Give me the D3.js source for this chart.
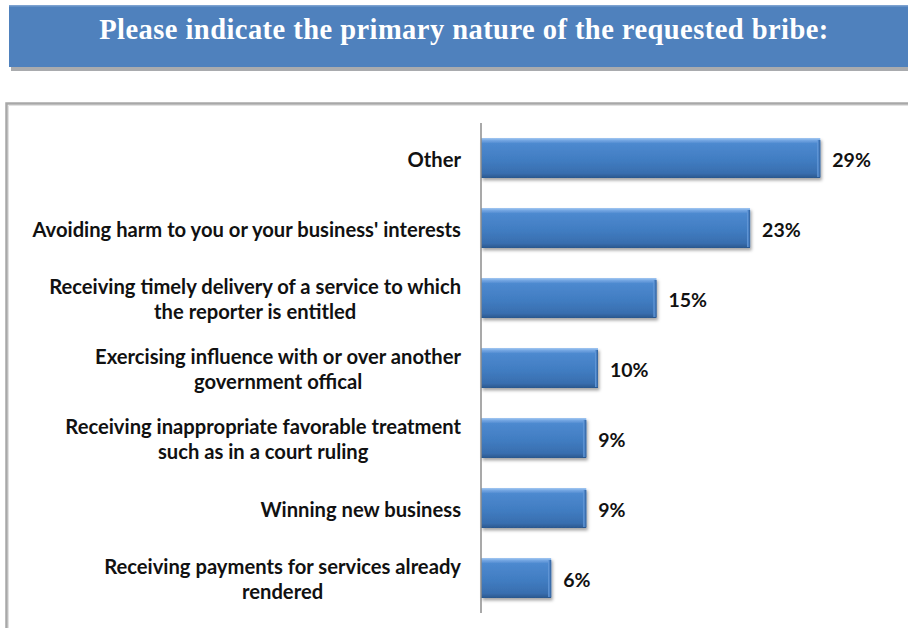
<!DOCTYPE html>
<html>
<head>
<meta charset="utf-8">
<script src="https://cdn.jsdelivr.net/npm/d3@7"></script>
<style>
  html, body { margin: 0; padding: 0; background: #fff; }
  svg { display: block; }
</style>
</head>
<body>
<div id="chart"></div>
<script>
// Survey responses: primary nature of the requested bribe (% of reports)
const titleText = "Please indicate the primary nature of the requested bribe:";
const categories = [
  ["Other"],
  ["Avoiding harm to you or your business' interests"],
  ["Receiving timely delivery of a service to which", "the reporter is entitled"],
  ["Exercising influence with or over another", "government offical"],
  ["Receiving inappropriate favorable treatment", "such as in a court ruling"],
  ["Winning new business"],
  ["Receiving payments for services already", "rendered"]
];
const values = [29, 23, 15, 10, 9, 9, 6];

const W = 908, H = 628;
const svg = d3.select("#chart").append("svg")
  .attr("width", W).attr("height", H);

const defs = svg.append("defs");

// vertical shading of each bar (lit top edge, darker base)
const g1 = defs.append("linearGradient").attr("id", "barFill")
  .attr("x1", 0).attr("y1", 0).attr("x2", 0).attr("y2", 1);
[["0%", "#a3c8f2"], ["6%", "#74a6e2"], ["14%", "#4d89cf"], ["55%", "#417dc2"],
 ["88%", "#386eaf"], ["100%", "#2b578d"]]
  .forEach(([o, c]) => g1.append("stop").attr("offset", o).attr("stop-color", c));

// bevel at the bar end
const g2 = defs.append("linearGradient").attr("id", "bevel")
  .attr("x1", 0).attr("y1", 0).attr("x2", 1).attr("y2", 0);
[["0%", "#6c9fdc"], ["45%", "#4a82c6"], ["100%", "#2f5d96"]]
  .forEach(([o, c]) => g2.append("stop").attr("offset", o).attr("stop-color", c));

const shadow = defs.append("filter").attr("id", "barShadow")
  .attr("x", "-5%").attr("y", "-20%").attr("width", "115%").attr("height", "160%");
shadow.append("feDropShadow").attr("dx", 1.5).attr("dy", 2.5)
  .attr("stdDeviation", 1.6).attr("flood-color", "#000").attr("flood-opacity", 0.35);

// title banner
svg.append("rect").attr("x", 11).attr("y", 67).attr("width", W).attr("height", 4)
  .attr("fill", "#a9abae");
svg.append("rect").attr("x", 9).attr("y", 5).attr("width", W).attr("height", 62)
  .attr("fill", "#4f81bd");
svg.append("rect").attr("x", 9).attr("y", 5).attr("width", W).attr("height", 1.5)
  .attr("fill", "#7da2d0");
svg.append("text")
  .attr("x", 464).attr("y", 39)
  .attr("text-anchor", "middle")
  .attr("font-family", "'Liberation Serif', 'DejaVu Serif', serif")
  .attr("font-weight", "bold")
  .attr("font-size", 28.5)
  .attr("letter-spacing", 0.45)
  .attr("fill", "#fff")
  .text(titleText);

// chart frame
svg.append("path")
  .attr("d", `M6.5,${H + 5} V103.5 H${W + 5}`)
  .attr("fill", "none").attr("stroke", "#a8a8a8").attr("stroke-width", 2.5);
svg.append("path")
  .attr("d", `M8.5,${H + 5} V105.5 H${W + 5}`)
  .attr("fill", "none").attr("stroke", "#e2e2e2").attr("stroke-width", 1);

// scales
const x = d3.scaleLinear().domain([0, 30]).range([481, 832]);
const y = d3.scaleBand()
  .domain(d3.range(values.length))
  .range([123, 613])
  .paddingInner(30 / 70)
  .paddingOuter(15 / 70);

const rows = svg.append("g").selectAll("g")
  .data(values.map((v, i) => ({ v, i, lines: categories[i] })))
  .join("g");

// bars
rows.append("rect")
  .attr("x", x(0))
  .attr("y", d => y(d.i))
  .attr("width", d => x(d.v) - x(0))
  .attr("height", y.bandwidth())
  .attr("fill", "url(#barFill)")
  .attr("filter", "url(#barShadow)");
rows.append("rect")
  .attr("x", d => x(d.v) - 3)
  .attr("y", d => y(d.i) + 2)
  .attr("width", 3)
  .attr("height", y.bandwidth() - 3)
  .attr("fill", "url(#bevel)");

// value axis line
svg.append("line")
  .attr("x1", x(0)).attr("x2", x(0))
  .attr("y1", y.range()[0]).attr("y2", y.range()[1])
  .attr("stroke", "#8c8c8c").attr("stroke-width", 1.5);

const labelFont = "Lato, 'Open Sans', sans-serif";
const labelSize = 20.2;

// value labels
rows.append("text")
  .attr("x", d => x(d.v) + 12)
  .attr("y", d => y(d.i) + y.bandwidth() / 2 + 2)
  .attr("dy", "0.35em")
  .attr("font-family", labelFont)
  .attr("font-weight", "bold")
  .attr("font-size", labelSize - 0.7)
  .attr("fill", "#111")
  .text(d => d.v + "%");

// category labels: lines centred on each other, block right-aligned to the axis gap
const labelRight = 461, lineH = 24.5;
rows.each(function (d) {
  const g = d3.select(this);
  const t = g.append("text")
    .attr("font-family", labelFont)
    .attr("font-weight", "bold")
    .attr("font-size", labelSize)
    .attr("fill", "#111")
    .attr("text-anchor", "middle");
  const spans = d.lines.map(s => t.append("tspan").text(s));
  const widths = spans.map(s => s.node().getComputedTextLength());
  const cx = labelRight - d3.max(widths) / 2;
  const cy = y(d.i) + y.bandwidth() / 2 + 1.5;
  const first = cy - (d.lines.length - 1) * lineH / 2;
  spans.forEach((s, k) => s.attr("x", cx).attr("y", first + k * lineH).attr("dy", "0.35em"));
});
</script>
</body>
</html>
